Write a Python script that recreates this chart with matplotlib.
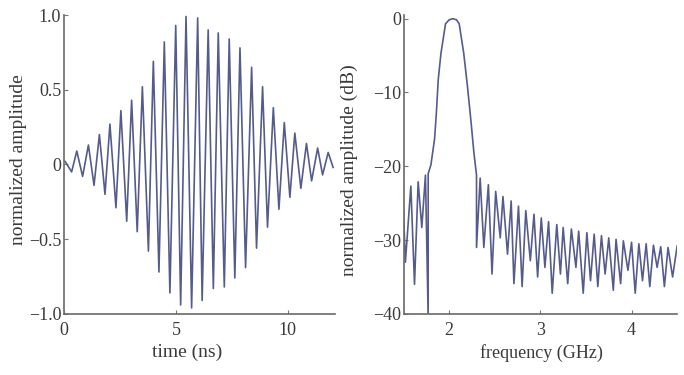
import numpy as np
import matplotlib.pyplot as plt

# ----------------------------
# Data
# ----------------------------

# time-domain pulse: successive extrema of the oscillation
t_ns = [
    0.05, 0.34, 0.57, 0.83, 1.09, 1.34, 1.58, 1.83, 2.05, 2.32,
    2.54, 2.80, 3.02, 3.27, 3.50, 3.77, 3.99, 4.24, 4.48, 4.73,
    4.99, 5.21, 5.45, 5.70, 5.97, 6.17, 6.44, 6.67, 6.89, 7.16,
    7.38, 7.63, 7.86, 8.11, 8.38, 8.60, 8.87, 9.09, 9.35, 9.60,
    9.84, 10.09, 10.31, 10.58, 10.83, 11.06, 11.33, 11.55, 11.80, 12.02,
]
amp = [
    0.02, -0.05, 0.09, -0.08, 0.13, -0.14, 0.20, -0.20, 0.27, -0.29,
    0.36, -0.38, 0.43, -0.45, 0.52, -0.58, 0.69, -0.72, 0.82, -0.86,
    0.93, -0.94, 0.99, -0.96, 0.98, -0.91, 0.90, -0.83, 0.88, -0.82,
    0.84, -0.76, 0.78, -0.69, 0.65, -0.56, 0.52, -0.42, 0.38, -0.30,
    0.28, -0.22, 0.21, -0.16, 0.14, -0.11, 0.11, -0.07, 0.08, -0.02,
]

# spectrum: sidelobe peaks / nulls and the main lobe
f_ghz = [
    1.49, 1.52, 1.58, 1.62, 1.66, 1.70, 1.74, 1.77, 1.77, 1.80,
    1.84, 1.86, 1.88, 1.91, 1.96, 2.00, 2.04, 2.08, 2.11, 2.16,
    2.20, 2.24, 2.27, 2.30, 2.30, 2.34, 2.38, 2.43, 2.47, 2.51,
    2.56, 2.59, 2.64, 2.68, 2.71, 2.76, 2.80, 2.84, 2.89, 2.93,
    2.97, 3.01, 3.05, 3.09, 3.13, 3.18, 3.22, 3.25, 3.30, 3.34,
    3.39, 3.42, 3.47, 3.51, 3.55, 3.59, 3.63, 3.67, 3.71, 3.75,
    3.80, 3.83, 3.88, 3.91, 3.96, 4.00, 4.04, 4.08, 4.12, 4.16,
    4.20, 4.24, 4.28, 4.32, 4.36, 4.40, 4.45, 4.50,
]
level_db = [
    -23.0, -33.0, -22.7, -36.0, -22.1, -28.3, -21.2, -40.5, -21.0, -19.8,
    -16.3, -12.7, -8.3, -4.7, -0.7, -0.15, 0.0, -0.15, -0.7, -4.7,
    -9.1, -14.0, -18.0, -21.2, -31.0, -21.6, -31.0, -22.5, -34.6, -23.4,
    -29.7, -24.1, -31.9, -24.7, -35.9, -25.4, -36.3, -26.0, -32.8, -26.5,
    -35.0, -27.0, -33.7, -27.5, -37.2, -27.9, -34.6, -28.3, -35.9, -28.5,
    -33.7, -28.8, -37.2, -29.0, -35.5, -29.2, -36.3, -29.4, -34.6, -29.7,
    -36.8, -29.9, -35.9, -30.1, -34.1, -30.3, -37.2, -30.5, -35.5, -30.5,
    -36.3, -30.7, -33.7, -30.9, -36.3, -31.0, -35.0, -30.8,
]

line_color = "#555c8c"
text_color = "#3a3a3a"

plt.rcParams["font.family"] = ["Liberation Serif", "DejaVu Serif"]


def style_axes(ax):
    for side in ("top", "right"):
        ax.spines[side].set_visible(False)
    for side in ("left", "bottom"):
        ax.spines[side].set_color("#6a6a6a")
        ax.spines[side].set_linewidth(1.2)
    ax.tick_params(
        direction="in",
        length=3,
        width=0.8,
        colors="#777777",
        labelcolor=text_color,
        labelsize=13,
    )
    ax.tick_params(axis="x", pad=6)
    ax.tick_params(axis="y", pad=2)


fig = plt.figure(figsize=(6.84, 3.75), dpi=100)

# ----------------------------
# Time domain
# ----------------------------

ax1 = fig.add_axes([0.0936, 0.163, 0.396, 0.797])
ax1.plot(t_ns, amp, color=line_color, lw=1.2)
ax1.set_xlim(0, 12.1)
ax1.set_ylim(-1.0, 1.0)
ax1.set_xticks([0, 5, 10])
ax1.set_yticks([-1.0, -0.5, 0, 0.5, 1.0])
ax1.set_yticklabels(["\u22121.0", "\u22120.5", "0", "0.5", "1.0"])
ax1.set_xlabel("time (ns)", color=text_color, fontsize=14)
ax1.set_ylabel("normalized amplitude", color=text_color, fontsize=14)
ax1.xaxis.set_label_coords(0.454, -0.10)
ax1.yaxis.set_label_coords(-0.135, 0.515)
style_axes(ax1)

# ----------------------------
# Spectrum
# ----------------------------

ax2 = fig.add_axes([0.590, 0.163, 0.400, 0.797])
ax2.plot(f_ghz, level_db, color=line_color, lw=1.2)
ax2.set_xlim(1.5, 4.5)
ax2.set_ylim(-40, 0.5)
ax2.set_xticks([2, 3, 4])
ax2.set_yticks([-40, -30, -20, -10, 0])
ax2.set_yticklabels(["\u221240", "\u221230", "\u221220", "\u221210", "0"])
ax2.set_xlabel("frequency (GHz)", color=text_color, fontsize=13)
ax2.set_ylabel("normalized amplitude (dB)", color=text_color, fontsize=14)
ax2.xaxis.set_label_coords(0.503, -0.10)
ax2.yaxis.set_label_coords(-0.168, 0.482)
style_axes(ax2)

fig.savefig("out.png", dpi=100)
